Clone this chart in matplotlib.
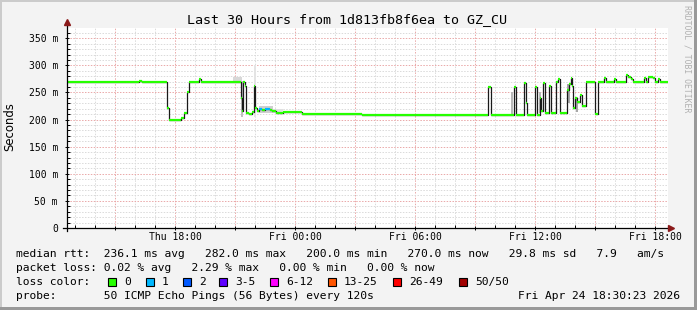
import matplotlib
matplotlib.use("Agg")
import matplotlib.pyplot as plt
from matplotlib.patches import Rectangle
from matplotlib.lines import Line2D
import numpy as np

W, H = 697, 310
MONO = "DejaVu Sans Mono"

# median rtt as steps: start (hours since Thu 00:00), value (ms), lost pings
step_start = [12.6, 16.2, 16.35, 17.6, 17.7, 18.3, 18.45, 18.6, 18.7, 19.2,
              19.3, 21.3, 21.35, 21.4, 21.5, 21.55, 21.7, 21.85, 21.95, 22.0,
              22.1, 22.2, 22.35, 22.5, 22.75, 22.85, 23.05, 23.4, 24.35, 27.35,
              33.65, 33.8, 34.95, 35.05, 35.45, 35.55, 35.6, 36.0, 36.1, 36.25,
              36.3, 36.4, 36.5, 36.7, 36.8, 37.05, 37.15, 37.25, 37.6, 37.7,
              37.8, 37.85, 37.9, 38.0, 38.1, 38.25, 38.35, 38.55, 39.0, 39.15,
              39.45, 39.55, 39.95, 40.05, 40.55, 40.65, 40.8, 40.9, 41.45, 41.55,
              41.65, 41.9, 42.0, 42.15, 42.25]
step_rtt = [270, 272, 270, 222, 200, 203, 212, 251, 270, 274,
            270, 240, 215, 270, 262, 213, 211, 214, 262, 222,
            216, 219, 217, 219, 218, 216, 212, 214, 211, 208,
            261, 209, 261, 209, 268, 230, 209, 261, 209, 240,
            215, 268, 213, 262, 212, 270, 274, 212, 255, 265,
            276, 262, 222, 240, 232, 245, 226, 270, 210, 270,
            277, 270, 275, 270, 282, 279, 275, 270, 276, 270,
            279, 276, 270, 274, 270]
step_loss = [0] * 21 + [1, 0, 1] + [0] * 51
t_end = 42.65

# smoke (spread of the individual pings)
smoke_t0 = [20.9, 21.3, 21.95, 22.2, 22.9, 34.8, 36.2, 37.6, 38.05]
smoke_t1 = [21.35, 21.4, 22.05, 22.9, 23.4, 34.9, 36.3, 37.75, 38.15]
smoke_lo = [268, 205, 205, 212, 212, 209, 212, 230, 214]
smoke_hi = [279, 272, 300, 226, 220, 250, 250, 265, 242]
smoke_gray = ["#d8d8d8", "#c0c0c0", "#e4e4e4", "#cfcfcf", "#e0e0e0",
              "#b8b8b8", "#b8b8b8", "#a8a8a8", "#a8a8a8"]

loss_labels = ["0", "1", "2", "3-5", "6-12", "13-25", "26-49", "50/50"]
loss_colors = ["#26ff00", "#00b8ff", "#0059ff", "#5e00ff", "#ff00ff",
               "#ff5500", "#ff0000", "#a10000"]
loss_x = [108, 146, 183, 219, 270, 328, 393, 459]

xtick_hours = [15, 18, 21, 24, 27, 30, 33, 36, 39, 42]
xtick_labels = ["", "Thu 18:00", "", "Fri 00:00", "", "Fri 06:00", "",
                "Fri 12:00", "", "Fri 18:00"]
ytick_ms = [0, 50, 100, 150, 200, 250, 300, 350]
ytick_labels = ["0" if v == 0 else f"{v} m" for v in ytick_ms]

legend_rows = [
    "median rtt:  236.1 ms avg   282.0 ms max   200.0 ms min   270.0 ms now   29.8 ms sd   7.9   am/s",
    "packet loss: 0.02 % avg   2.29 % max   0.00 % min   0.00 % now",
    "loss color:",
    "probe:       50 ICMP Echo Pings (56 Bytes) every 120s",
]
stamp = "Fri Apr 24 18:30:23 2026"
title = "Last 30 Hours from 1d813fb8f6ea to GZ_CU"


def fx(x):
    return x / W


def fy(y):
    return 1 - y / H


fig = plt.figure(figsize=(W / 100, H / 100), dpi=100, facecolor="#f3f3f3")

# 3d frame
fig.add_artist(Rectangle((0, fy(2)), 1, 2 / H, transform=fig.transFigure, color="#cbcbcb", lw=0))
fig.add_artist(Rectangle((0, 0), 2 / W, 1, transform=fig.transFigure, color="#cbcbcb", lw=0))
fig.add_artist(Rectangle((0, 0), 1, 3 / H, transform=fig.transFigure, color="#999999", lw=0))
fig.add_artist(Rectangle((fx(W - 3), 0), 3 / W, 1, transform=fig.transFigure, color="#999999", lw=0))

L, R, T, B = 67, 668, 28, 228
ax = fig.add_axes([fx(L), fy(B), (R - L) / W, (B - T) / H])
ax.set_facecolor("white")
ax.set_xlim(12.6, t_end)
ax.set_ylim(0, 369)

for s in ax.spines.values():
    s.set_visible(False)

ax.set_xticks(xtick_hours)
ax.set_xticklabels(xtick_labels, fontfamily=MONO, fontsize=7)
ax.set_xticks(np.arange(13, 43, 1), minor=True)
ax.set_yticks(ytick_ms)
ax.set_yticklabels(ytick_labels, fontfamily=MONO, fontsize=7)
ax.set_yticks(np.arange(0, 370, 10), minor=True)
ax.tick_params(axis="both", which="major", direction="inout", length=3, width=0.7, pad=1.5)
ax.tick_params(axis="both", which="minor", direction="in", length=2, width=0.7)
ax.tick_params(axis="y", which="major", pad=5)

ax.grid(which="minor", color="#dadada", lw=0.7, ls=(0, (1.5, 1.5)))
ax.grid(which="major", color="#eaa8a8", lw=0.7, ls=(0, (1.5, 1.5)))
ax.set_axisbelow(True)

# smoke
for t0, t1, lo, hi, g in zip(smoke_t0, smoke_t1, smoke_lo, smoke_hi, smoke_gray):
    ax.fill_between([t0, t1], lo, hi, color=g, lw=0, zorder=2)

# median line: dark step for the jumps, coloured flats by loss
xs = np.append(step_start, t_end)
ys = np.append(step_rtt, step_rtt[-1])
ax.step(xs, ys, where="post", color="#1a1a1a", lw=0.9, zorder=3)
ax.hlines(step_rtt, step_start, xs[1:], colors=[loss_colors[k] for k in step_loss],
          lw=1.6, zorder=4)

# axes with arrows
fig.add_artist(Line2D([fx(L), fx(L)], [fy(B + 3), fy(T - 6)], color="black", lw=0.9))
fig.add_artist(Line2D([fx(L - 4), fx(R + 2)], [fy(B), fy(B)], color="black", lw=0.9))
fig.add_artist(Line2D([fx(L)], [fy(T - 6)], marker="^", ms=4.5, color="#8b1a1a", lw=0))
fig.add_artist(Line2D([fx(R + 3)], [fy(B)], marker=">", ms=4.5, color="#8b1a1a", lw=0))

fig.text(fx(347), fy(20), title, ha="center", va="center", fontfamily=MONO, fontsize=9.6)
fig.text(fx(10), fy(127), "Seconds", ha="center", va="center", rotation=90,
         fontfamily="DejaVu Sans", fontsize=8.4)
fig.text(fx(687), fy(59), "RRDTOOL / TOBI OETIKER", ha="center", va="center",
         rotation=-90, fontfamily=MONO, fontsize=5.9, color="#b0b0b0")

row_y = [254, 268, 282, 296]
for txt, y in zip(legend_rows, row_y):
    fig.text(fx(16), fy(y), txt, ha="left", va="center", fontfamily=MONO, fontsize=8.1)
fig.text(fx(680), fy(row_y[3]), stamp, ha="right", va="center", fontfamily=MONO, fontsize=8.1)

for lab, col, x in zip(loss_labels, loss_colors, loss_x):
    fig.add_artist(Rectangle((fx(x), fy(row_y[2] + 4)), 8 / W, 8 / H,
                             transform=fig.transFigure, facecolor=col,
                             edgecolor="black", lw=0.8))
    fig.text(fx(x + 16), fy(row_y[2]), lab, ha="left", va="center",
             fontfamily=MONO, fontsize=8.1)

fig.savefig("out.png", dpi=100, facecolor=fig.get_facecolor())
